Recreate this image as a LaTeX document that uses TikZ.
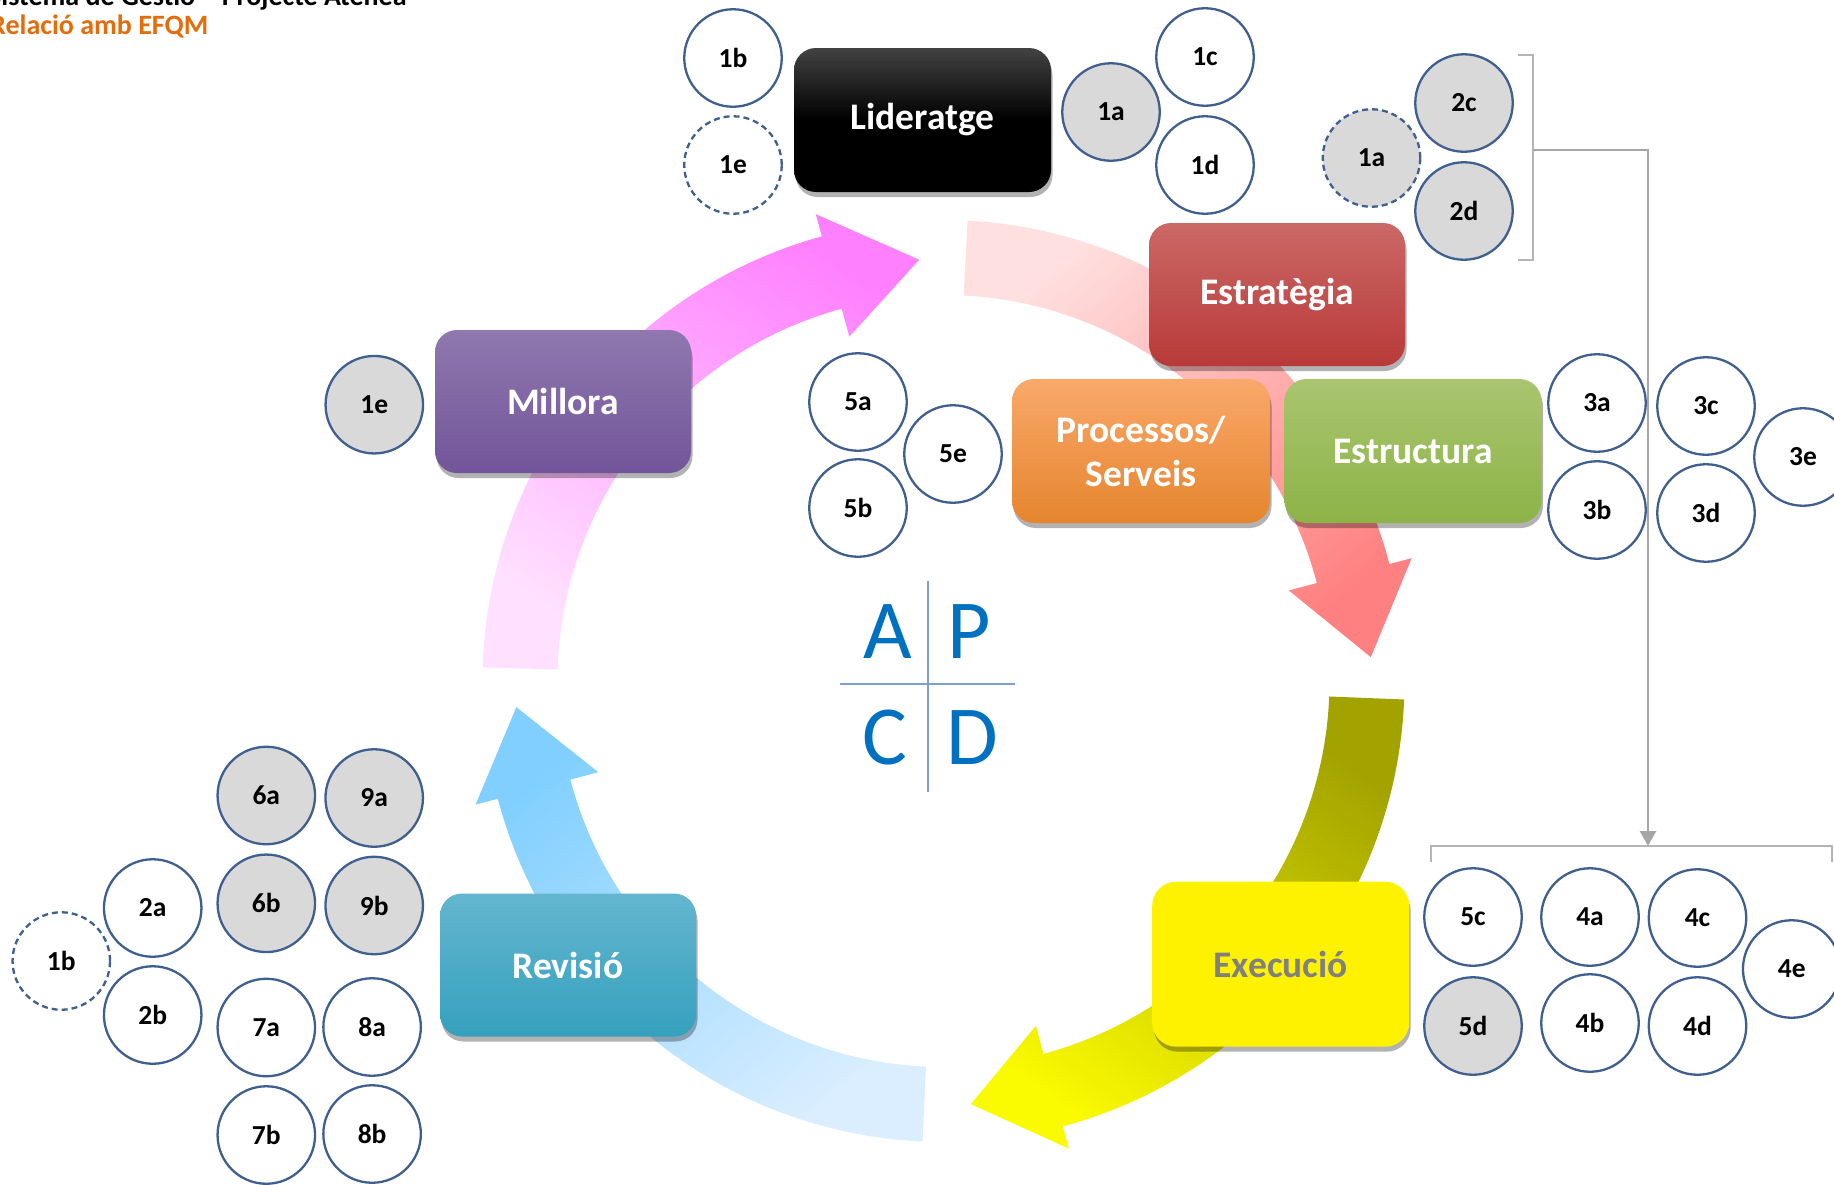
\documentclass[tikz,border=0pt]{standalone}
\usepackage{fontspec}
\setmainfont{Carlito}
\usetikzlibrary{shadows,arrows.meta}
\definecolor{cstroke}{HTML}{3F5F8F}
\definecolor{cgray}{HTML}{D9D9D9}
\definecolor{ttlorange}{HTML}{E46C0A}
\definecolor{pinkL}{HTML}{FFE0FF}
\definecolor{pinkD}{HTML}{FF80FF}
\definecolor{redL}{HTML}{FFE0E0}
\definecolor{redD}{HTML}{FF8080}
\definecolor{oliveD}{HTML}{A3A300}
\definecolor{oliveL}{HTML}{FAFA00}
\definecolor{blueL}{HTML}{DAEEFF}
\definecolor{blueD}{HTML}{80CFFF}
\definecolor{estT}{HTML}{CB6866}
\definecolor{estB}{HTML}{B83A38}
\definecolor{proT}{HTML}{FAA86A}
\definecolor{proB}{HTML}{E5852E}
\definecolor{strT}{HTML}{A9C56F}
\definecolor{strB}{HTML}{8DB347}
\definecolor{milT}{HTML}{8F78AE}
\definecolor{milB}{HTML}{72559A}
\definecolor{revT}{HTML}{64B6CF}
\definecolor{revB}{HTML}{35A0BE}
\definecolor{apcdblue}{HTML}{0070C0}
\definecolor{crossline}{HTML}{7F9FCF}
\definecolor{brk}{HTML}{B5B5B5}
\definecolor{conngray}{HTML}{A6A6A6}
\tikzset{
  badge/.style={circle, draw=cstroke, line width=2.3pt, minimum size=97.5pt, inner sep=0pt, fill=white,
    font=\bfseries\fontsize{27.5}{27.5}\selectfont},
  gbadge/.style={badge, fill=cgray},
  dbadge/.style={badge, dash pattern=on 6pt off 4pt},
  cyclebox/.style={rounded corners=22pt, minimum width=256pt, minimum height=143pt, inner sep=2pt,
    text=white, align=center, font=\bfseries\fontsize{37.5}{44}\selectfont,
    drop shadow={shadow xshift=1.5pt, shadow yshift=-5pt, opacity=0.3, fill=black}},
  apcd/.style={text=apcdblue, font=\fontsize{84}{84}\selectfont, inner sep=0pt, anchor=base},
  brack/.style={draw=brk, line width=1.6pt},
  conn/.style={draw=conngray, line width=2.8pt, -{Triangle[length=15pt,width=16pt]}},
}
\begin{document}
\begin{tikzpicture}[x=1pt, y=-1pt]
\useasboundingbox (0,0) rectangle (1834,1184);
\fill[white] (0,0) rectangle (1834,1184);

% ---- cycle arrows ----
\begin{scope}[shift={(943.5,681)}, y=1pt]
  \shade[top color=pinkD, bottom color=pinkL, shading angle=-35]
    (178.3:461) arc[start angle=178.3, end angle=105.3, radius=461] -- (105.3:484) -- (93.3:422)
    -- (105.3:357) -- (105.3:386) arc[start angle=105.3, end angle=178.3, radius=386] -- cycle;
  \shade[top color=redL, bottom color=redD, shading angle=40]
    (87:461) arc[start angle=87, end angle=14.7, radius=461] -- (14.7:484) -- (3.2:428)
    -- (14.7:357) -- (14.7:386) arc[start angle=14.7, end angle=87, radius=386] -- cycle;
  \shade[top color=oliveD, bottom color=oliveL, shading angle=-35]
    (-2.3:461) arc[start angle=-2.3, end angle=-75, radius=461] -- (-75:484) -- (-86.3:424)
    -- (-75:357) -- (-75:386) arc[start angle=-75, end angle=-2.3, radius=386] -- cycle;
  \shade[top color=blueD, bottom color=blueL, shading angle=40]
    (-92.6:461) arc[start angle=-92.6, end angle=-165.2, radius=461] -- (-165.2:484) -- (-176.5:428)
    -- (-165.2:357) -- (-165.2:386) arc[start angle=-165.2, end angle=-92.6, radius=386] -- cycle;
\end{scope}

% ---- title ----
\node[anchor=base west, inner sep=0pt, font=\bfseries\fontsize{28}{28}\selectfont] (ttl1) at (-12,5) {Sistema de Gestió – Projecte Atenea};
\node[anchor=base west, inner sep=0pt, text=ttlorange, font=\bfseries\fontsize{28}{28}\selectfont] (ttl2) at (-10,34.3) {Relació amb EFQM};

% ---- APCD ----
\draw[crossline, line width=1.3pt] (928,581) -- (928,792);
\draw[crossline, line width=1.3pt] (840,684) -- (1015,684);
\node[apcd] (lA) at (887.7,658) {A};
\node[apcd] (lP) at (969,658) {P};
\node[apcd] (lC) at (884.5,764) {C};
\node[apcd] (lD) at (972,764) {D};

% ---- boxes ----
\node[cyclebox, top color=black!74, bottom color=black, middle color=black, minimum width=257pt, minimum height=144pt] (lid) at (922.5,120) {Lideratge};
\node[cyclebox, top color=estT, bottom color=estB] (est) at (1277,294.5) {Estratègia};
\node[cyclebox, top color=proT, bottom color=proB, minimum width=258pt, minimum height=144pt] (pro) at (1141,451) {Processos/\\Serveis};
\node[cyclebox, top color=strT, bottom color=strB, minimum width=257pt, minimum height=144pt] (str) at (1413,451) {Estructura};
\node[cyclebox, top color=milT, bottom color=milB] (mil) at (563,401.5) {Millora};
\node[cyclebox, top color=revT, bottom color=revB] (rev) at (568,965) {Revisió};
\node[cyclebox, fill=yellow, text=black!50, rounded corners=24pt, minimum width=257pt, minimum height=165pt] (exe) at (1280.7,964.2) {Execució};

% ---- circles: Lideratge ----
\node[badge] (c1b) at (733,58) {1b};
\node[dbadge] (c1e) at (733,165) {1e};
\node[gbadge] (c1a) at (1111,112) {1a};
\node[badge] (c1c) at (1205,57) {1c};
\node[badge] (c1d) at (1205,165) {1d};

% ---- circles: Estrategia ----
\node[gbadge, dash pattern=on 6pt off 4pt] (s1a) at (1371.5,158) {1a};
\node[gbadge] (s2c) at (1464,103) {2c};
\node[gbadge] (s2d) at (1464,211) {2d};

% ---- Millora ----
\node[gbadge] (m1e) at (374.3,404.7) {1e};

% ---- Processos ----
\node[badge] (p5a) at (858,402) {5a};
\node[badge] (p5e) at (953,454) {5e};
\node[badge] (p5b) at (858,508) {5b};

% ---- Estructura ----
\node[badge] (e3a) at (1597,403) {3a};
\node[badge] (e3b) at (1597,510) {3b};
\node[badge] (e3c) at (1706,406) {3c};
\node[badge] (e3d) at (1706,513) {3d};
\node[badge] (e3e) at (1803,457) {3e};

% ---- Execucio ----
\node[badge] (x5c) at (1473,917) {5c};
\node[gbadge] (x5d) at (1473,1026) {5d};
\node[badge] (x4a) at (1590,917) {4a};
\node[badge] (x4b) at (1590,1023) {4b};
\node[badge] (x4c) at (1697.5,918) {4c};
\node[badge] (x4d) at (1697.5,1026) {4d};
\node[badge] (x4e) at (1791.7,969) {4e};

% ---- Revisio ----
\node[gbadge] (r6a) at (266.3,795.5) {6a};
\node[gbadge] (r9a) at (374.2,798) {9a};
\node[gbadge] (r6b) at (266.3,903.3) {6b};
\node[gbadge] (r9b) at (374.2,905.5) {9b};
\node[badge] (r2a) at (152.7,908) {2a};
\node[dbadge] (r1b) at (61.3,961) {1b};
\node[badge] (r2b) at (152.7,1015) {2b};
\node[badge] (r7a) at (266.3,1027.5) {7a};
\node[badge] (r8a) at (372.1,1027) {8a};
\node[badge] (r7b) at (266.3,1135) {7b};
\node[badge] (r8b) at (372.1,1134) {8b};

% ---- brackets and connector ----
\draw[brack] (1518,55) -- (1533,55) -- (1533,260) -- (1518,260);
\draw[brack] (1431,862) -- (1431,846) -- (1832,846) -- (1832,862);
\coordinate (brTmid) at (1533,150);
\coordinate (brBmid) at (1648,846);
\draw[conn] (brTmid) -| (brBmid);
\end{tikzpicture}
\end{document}
